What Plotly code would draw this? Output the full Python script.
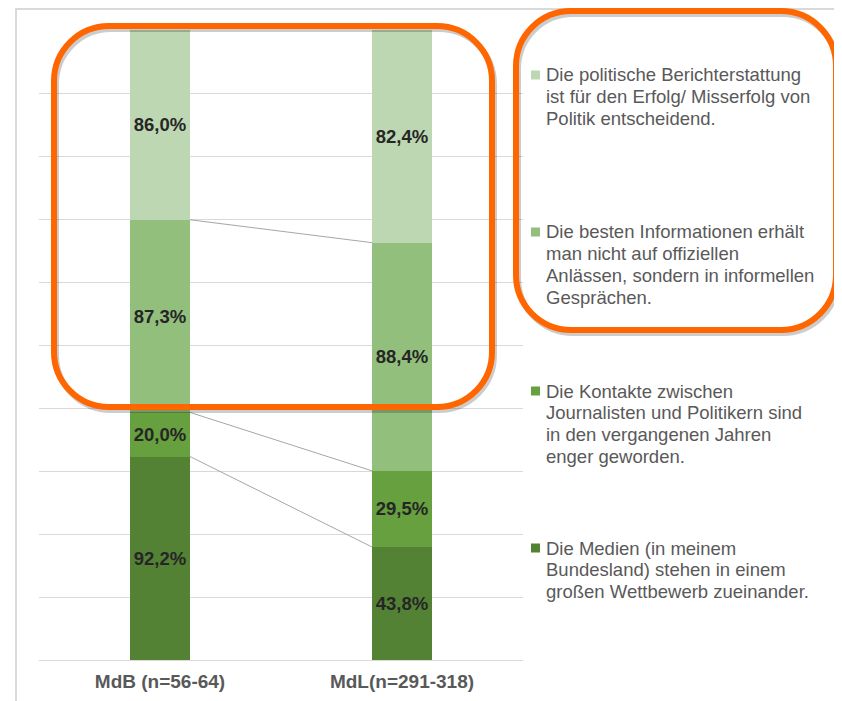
import plotly.graph_objects as go

# ---------------- data ----------------
categories = ["MdB (n=56-64)", "MdL(n=291-318)"]
series_names = [
    ["Die Medien (in meinem", "Bundesland) stehen in einem", "großen Wettbewerb zueinander."],
    ["Die Kontakte zwischen", "Journalisten und Politikern sind", "in den vergangenen Jahren", "enger geworden."],
    ["Die besten Informationen erhält", "man nicht auf offiziellen", "Anlässen, sondern in informellen", "Gesprächen."],
    ["Die politische Berichterstattung", "ist für den Erfolg/ Misserfolg von", "Politik entscheidend."],
]
medien = [92.2, 43.8]
kontakte = [20.0, 29.5]
informationen = [87.3, 88.4]
berichterstattung = [86.0, 82.4]
series_values = [medien, kontakte, informationen, berichterstattung]
colors = ["#548235", "#66a03f", "#93bf7d", "#bdd7b2"]

# ---------------- layout geometry ----------------
# page has an 8px body margin (left/top); figure is sized to fit the window
OFF = 8
FW, FH = 842 - OFF, 701 - OFF
L_PAGE, T_PAGE, W, H = 39, 30, 484, 630
L, T = L_PAGE - OFF, T_PAGE - OFF
R = FW - L - W
B = FH - T - H
BAR_W = 0.248


def px_x(px):
    return (px - L_PAGE) / W


def px_y(py):
    return (T_PAGE + H - py) / H


def rounded_path(x0, y0, x1, y1, r, dx=0, dy=0):
    k = 0.5523 * r
    x0 += dx; x1 += dx; y0 += dy; y1 += dy

    def P(x, y):
        return f"{px_x(x):.5f},{px_y(y):.5f}"
    pts = [
        f"M {P(x0 + r, y0)}",
        f"L {P(x1 - r, y0)}",
        f"C {P(x1 - r + k, y0)} {P(x1, y0 + r - k)} {P(x1, y0 + r)}",
        f"L {P(x1, y1 - r)}",
        f"C {P(x1, y1 - r + k)} {P(x1 - r + k, y1)} {P(x1 - r, y1)}",
        f"L {P(x0 + r, y1)}",
        f"C {P(x0 + r - k, y1)} {P(x0, y1 - r + k)} {P(x0, y1 - r)}",
        f"L {P(x0, y0 + r)}",
        f"C {P(x0, y0 + r - k)} {P(x0 + r - k, y0)} {P(x0 + r, y0)}",
        "Z",
    ]
    return " ".join(pts)


def fmt(v):
    return f"{v:.1f}".replace(".", ",") + "%"


fig = go.Figure()
xs = list(range(len(categories)))
for name, vals, col in zip(series_names, series_values, colors):
    fig.add_trace(go.Bar(
        x=xs, y=vals, name=" ".join(name), marker=dict(color=col, line=dict(width=0)),
        width=BAR_W, text=[fmt(v) for v in vals], textposition="inside",
        insidetextanchor="middle", textangle=0, constraintext="none",
        textfont=dict(family="Liberation Sans, Arial", size=18.5, color="#262626", weight="bold"),
        showlegend=False, hoverinfo="skip",
    ))

# series connector lines (cumulative percentage boundaries)
totals = [sum(s[i] for s in series_values) for i in xs]
cum = [0.0 for _ in xs]
for s in series_values[:-1]:
    cum = [cum[i] + s[i] for i in xs]
    pct = [cum[i] / totals[i] * 100 for i in xs]
    fig.add_trace(go.Scatter(
        x=[xs[0] + BAR_W / 2, xs[1] - BAR_W / 2], y=pct, mode="lines",
        line=dict(color="#a6a6a6", width=1), showlegend=False, hoverinfo="skip",
    ))

shapes = []
# outer border of chart area
shapes.append(dict(type="rect", xref="paper", yref="paper",
                   x0=px_x(16), x1=px_x(840), y0=px_y(9), y1=px_y(730),
                   line=dict(color="#d9d9d9", width=2), fillcolor="rgba(0,0,0,0)", layer="below"))

# legend squares + text (as annotations)
annotations = []
first_line_y = [548, 391, 232, 75]
LINE_H = 21.8
for name, col, y0 in zip(series_names, colors, first_line_y):
    shapes.append(dict(type="rect", xref="paper", yref="paper",
                       x0=px_x(531), x1=px_x(540), y0=px_y(y0 + 4.5), y1=px_y(y0 - 4.5),
                       fillcolor=col, line=dict(width=0)))
    for j, line in enumerate(name):
        annotations.append(dict(
            text=line, xref="paper", yref="paper", x=px_x(544), y=px_y(y0 + j * LINE_H),
            xanchor="left", yanchor="middle", showarrow=False,
            font=dict(family="Liberation Sans, Arial", size=18.5, color="#595959"),
        ))

# orange rounded highlight boxes with soft shadow
for (x0, y0, x1, y1) in [(54, 26, 492, 407), (516, 11, 836, 330)]:
    shapes.append(dict(type="path", xref="paper", yref="paper",
                       path=rounded_path(x0, y0, x1, y1, 55, dx=2, dy=3),
                       line=dict(color="rgba(0,0,0,0.2)", width=6)))
    shapes.append(dict(type="path", xref="paper", yref="paper",
                       path=rounded_path(x0, y0, x1, y1, 55),
                       line=dict(color="#ff6600", width=6)))

fig.update_layout(
    width=FW, height=FH, barmode="stack", barnorm="percent",
    margin=dict(l=L, r=R, t=T, b=B, pad=0, autoexpand=False),
    paper_bgcolor="white", plot_bgcolor="white",
    xaxis=dict(range=[-0.5, 1.5], tickvals=xs, ticktext=categories, showgrid=False,
               zeroline=False, showline=False, ticks="", ticklabelstandoff=8, automargin=False,
               tickfont=dict(family="Liberation Sans, Arial", size=19, color="#595959", weight="bold")),
    yaxis=dict(range=[0, 100], dtick=10, showgrid=True, gridcolor="#d9d9d9", gridwidth=1,
               zeroline=True, zerolinecolor="#d9d9d9", zerolinewidth=1, automargin=False,
               showticklabels=False, ticks=""),
    shapes=shapes, annotations=annotations,
)

fig.write_html("out.html")
